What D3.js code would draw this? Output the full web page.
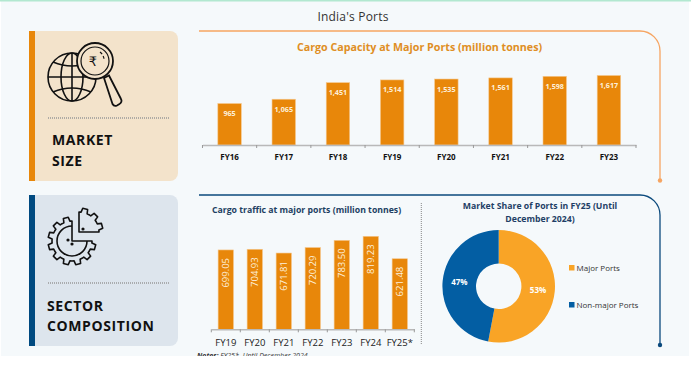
<!DOCTYPE html>
<html>
<head>
<meta charset="utf-8">
<script src="https://cdn.jsdelivr.net/npm/d3@7"></script>
<style>
  html, body { margin: 0; padding: 0; background: #fff; }
  svg { display: block; font-family: "Open Sans", sans-serif; }
</style>
</head>
<body>
<svg id="chart" width="691" height="367"></svg>
<script>
const capacityYears = ["FY16", "FY17", "FY18", "FY19", "FY20", "FY21", "FY22", "FY23"];
const capacityValues = [965, 1065, 1451, 1514, 1535, 1561, 1598, 1617];
const trafficYears = ["FY19", "FY20", "FY21", "FY22", "FY23", "FY24", "FY25*"];
const trafficValues = [699.05, 704.93, 671.81, 720.29, 783.5, 819.23, 621.48];
const shareLabels = ["Major Ports", "Non-major Ports"];
const shareValues = [53, 47];

const orange = "#e8870a";
const navy = "#004a80";
const svg = d3.select("#chart");

// page background
svg.append("rect").attr("width", 688).attr("x", 1).attr("height", 356).attr("fill", "#f5f9fb");
svg.append("rect").attr("width", 691).attr("height", 1.5).attr("fill", "#b2e8d0");

svg.append("text").attr("x", 353).attr("y", 21).attr("text-anchor", "middle")
  .attr("font-size", 12).attr("letter-spacing", 0.2).attr("fill", "#333").text("India's Ports");

// left side cards
const card = (y, h, fill, bar) => {
  svg.append("path")
    .attr("d", `M29,${y}H170a8,8 0 0 1 8,8V${y + h - 8}a8,8 0 0 1 -8,8H29Z`)
    .attr("fill", fill);
  svg.append("rect").attr("x", 29).attr("y", y).attr("width", 6).attr("height", h).attr("fill", bar);
};
card(31, 150, "#f3e3cb", orange);
card(195, 151, "#dde5ed", navy);

const dots = (y) => svg.append("line").attr("x1", 48).attr("x2", 170).attr("y1", y).attr("y2", y)
  .attr("stroke", "#999").attr("stroke-width", 1.5).attr("stroke-dasharray", "1 1");
dots(118);
dots(283);

const cardLabel = (x, y, t) => svg.append("text").attr("x", x).attr("y", y)
  .attr("font-size", 14).attr("font-weight", 700).attr("letter-spacing", 0.6).attr("fill", "#111").text(t);
cardLabel(52, 145, "MARKET");
cardLabel(52, 166, "SIZE");
cardLabel(47, 311, "SECTOR");
cardLabel(47, 331, "COMPOSITION");

// globe and magnifier icon
const globe = svg.append("g").attr("fill", "none").attr("stroke", "#111").attr("stroke-width", 1.6);
globe.append("circle").attr("cx", 72).attr("cy", 77).attr("r", 24);
globe.append("ellipse").attr("cx", 72).attr("cy", 77).attr("rx", 11).attr("ry", 24);
globe.append("line").attr("x1", 72).attr("x2", 72).attr("y1", 53).attr("y2", 101);
globe.append("line").attr("x1", 48).attr("x2", 96).attr("y1", 77).attr("y2", 77);
globe.append("path").attr("d", "M53,62Q72,70 91,62M53,92Q72,84 91,92");
const lens = svg.append("g").attr("stroke", "#111").attr("stroke-width", 1.8);
lens.append("path").attr("d", "M104,78L109,75.5L121,99a3.5,3.5 0 0 1 -1.5,5L117,105.5a3.5,3.5 0 0 1 -4.5,-1.5Z")
  .attr("fill", "#f3e3cb");
lens.append("circle").attr("cx", 95).attr("cy", 61).attr("r", 18).attr("fill", "#f3e3cb");
lens.append("circle").attr("cx", 95).attr("cy", 61).attr("r", 14).attr("fill", "#f3e3cb").attr("stroke-width", 1.2);
lens.append("path").attr("d", "M100,52a10,10 0 0 1 4,7").attr("fill", "none").attr("stroke-width", 1.2).attr("stroke-dasharray", "3 2");
svg.append("text").attr("x", 93).attr("y", 66).attr("text-anchor", "middle").attr("font-family", "DejaVu Sans")
  .attr("font-size", 13).attr("fill", "#111").text("₹");

// gear icon, a 3/4 gear with the missing quarter moved up and right
const gearPath = (cx, cy, from, to) => {
  const r0 = 20, r1 = 24, teeth = 12, step = (2 * Math.PI) / teeth;
  const pts = [];
  for (let a = from; a < to - 0.001; a += step) {
    [[0, r0], [0.2, r0], [0.3, r1], [0.7, r1], [0.8, r0]].forEach(([f, r]) => {
      const t = a + f * step;
      pts.push([cx + r * Math.sin(t), cy - r * Math.cos(t)]);
    });
  }
  pts.push([cx + r0 * Math.sin(to), cy - r0 * Math.cos(to)]);
  return `M${cx},${cy}L` + pts.map((p) => p.join(",")).join("L") + "Z";
};
const gear = svg.append("g").attr("fill", "none").attr("stroke", "#111").attr("stroke-width", 1.6).attr("stroke-linejoin", "round");
gear.append("path").attr("d", gearPath(72, 241, Math.PI / 2, 2 * Math.PI));
gear.append("path").attr("d", gearPath(79, 232, 0, Math.PI / 2));
gear.append("path").attr("d", "M72,226a15,15 0 1 0 15,15");
gear.selectAll("circle").data([[68, 240], [72, 244], [83, 229]]).join("circle")
  .attr("cx", (d) => d[0]).attr("cy", (d) => d[1]).attr("r", 0.8).attr("fill", "#111");

// frames around the chart panels
const frame = (top, bottom, color) => {
  svg.append("path").attr("fill", "none").attr("stroke", color).attr("stroke-width", 1.3)
    .attr("d", `M199,${top}H640a20,20 0 0 1 20,20V${bottom}`);
  svg.append("circle").attr("cx", 660).attr("cy", bottom).attr("r", 2.2).attr("fill", color);
};
frame(31, 180.5, "#f6a562");
frame(195, 345, "#0b4a7d");

// cargo capacity bars
const capX = d3.scaleBand().domain(capacityYears).range([202.5, 636]).paddingInner(0.567).paddingOuter(0.283);
const capY = d3.scaleLinear().domain([0, 1617]).range([145, 75.5]);

svg.append("text").attr("x", 419.5).attr("y", 51).attr("text-anchor", "middle")
  .attr("font-size", 10.7).attr("font-weight", 700).attr("fill", "#df8e24")
  .text("Cargo Capacity at Major Ports (million tonnes)");

svg.append("g").selectAll("rect").data(capacityValues).join("rect")
  .attr("x", (d, i) => capX(capacityYears[i]))
  .attr("y", (d) => capY(d))
  .attr("width", capX.bandwidth())
  .attr("height", (d) => capY(0) - capY(d))
  .attr("fill", orange).attr("stroke", "#f5c88f").attr("stroke-width", 0.6);

svg.append("g").selectAll("text").data(capacityValues).join("text")
  .attr("x", (d, i) => capX(capacityYears[i]) + capX.bandwidth() / 2)
  .attr("y", (d) => capY(d) + 12.5)
  .attr("text-anchor", "middle").attr("font-size", 7.2).attr("font-weight", 700).attr("fill", "#fdf0dc")
  .text((d) => d3.format(",")(d));

const bandAxis = (x, y, fontSize, weight, dy, color) => {
  const g = svg.append("g").attr("transform", `translate(0,${y})`)
    .call(d3.axisBottom(x).tickSize(0).tickPadding(0));
  g.select(".domain").attr("stroke", "#b9b9b9").attr("stroke-width", 1.5);
  g.selectAll(".tick text").attr("dy", 0).attr("y", dy)
    .attr("font-family", '"Open Sans", sans-serif').attr("font-size", fontSize)
    .attr("font-weight", weight).attr("fill", color);
  // ticks sit on the band edges, not the band centres
  const edges = x.domain().map((d) => x(d) - (x.step() * x.paddingInner()) / 2).concat(x.range()[1]);
  g.selectAll(".edge").data(edges).join("line").attr("class", "edge")
    .attr("x1", (d) => d).attr("x2", (d) => d).attr("y1", 0).attr("y2", 3).attr("stroke", "#999");
};
bandAxis(capX, 145, 8, 700, 15, "#111");

// cargo traffic bars
const trafX = d3.scaleBand().domain(trafficYears).range([211.3, 414.3]).paddingInner(0.47).paddingOuter(0.235);
const trafY = d3.scaleLinear().domain([0, 819.23]).range([329.3, 236.3]);

svg.append("text").attr("x", 306.5).attr("y", 213).attr("text-anchor", "middle")
  .attr("font-size", 8.7).attr("font-weight", 700).attr("fill", "#1d3f62")
  .text("Cargo traffic at major ports (million tonnes)");

svg.append("g").selectAll("rect").data(trafficValues).join("rect")
  .attr("x", (d, i) => trafX(trafficYears[i]))
  .attr("y", (d) => trafY(d))
  .attr("width", trafX.bandwidth())
  .attr("height", (d) => trafY(0) - trafY(d))
  .attr("fill", orange).attr("stroke", "#f5c88f").attr("stroke-width", 0.6);

svg.append("g").selectAll("text").data(trafficValues).join("text")
  .attr("transform", (d, i) => `translate(${trafX(trafficYears[i]) + trafX.bandwidth() / 2 + 3.5},${trafY(d) + 8}) rotate(-90)`)
  .attr("text-anchor", "end").attr("font-size", 9.5).attr("fill", "#fdf0dc")
  .text((d) => d.toFixed(2));

bandAxis(trafX, 329.3, 9.5, 400, 16.5, "#222");

svg.append("line").attr("x1", 421.3).attr("x2", 421.3).attr("y1", 203).attr("y2", 345)
  .attr("stroke", "#888").attr("stroke-width", 1).attr("stroke-dasharray", "1 1");

// market share donut
const shareColors = d3.scaleOrdinal().domain(shareLabels).range(["#f9a426", "#035ea3"]);
const pie = d3.pie().sort(null);
const arc = d3.arc().innerRadius(22.7).outerRadius(56.3);
const donut = svg.append("g").attr("transform", "translate(498.7,286.3)");
const slices = pie(shareValues);

donut.selectAll("path").data(slices).join("path")
  .attr("d", arc)
  .attr("fill", (d, i) => shareColors(shareLabels[i]));
donut.selectAll("text").data(slices).join("text")
  .attr("transform", (d) => `translate(${arc.centroid(d)})`)
  .attr("text-anchor", "middle").attr("dy", "0.35em")
  .attr("font-size", 8).attr("font-weight", 700).attr("fill", "#fff")
  .text((d) => d.data + "%");

const donutTitle = svg.append("text").attr("text-anchor", "middle")
  .attr("font-size", 8.7).attr("font-weight", 700).attr("fill", "#1f3f66");
donutTitle.append("tspan").attr("x", 540).attr("y", 209).text("Market Share of Ports in FY25 (Until");
donutTitle.append("tspan").attr("x", 540).attr("y", 222).text("December 2024)");

const legend = svg.append("g").selectAll("g").data(shareLabels).join("g")
  .attr("transform", (d, i) => `translate(569,${265 + i * 37})`);
legend.append("rect").attr("width", 5.5).attr("height", 5.5)
  .attr("fill", (d) => shareColors(d));
legend.append("text").attr("x", 7.5).attr("y", 5.5).attr("font-size", 8).attr("fill", "#333").text((d) => d);

// footnote is cut off by the bottom of the slide image
svg.append("text").attr("x", 197).attr("y", 357.5).attr("font-size", 7).attr("font-style", "italic").attr("fill", "#333")
  .html('<tspan font-weight="700">Notes:</tspan> FY25*- Until December 2024');
svg.append("rect").attr("y", 356).attr("width", 691).attr("height", 11).attr("fill", "#fff");
</script>
</body>
</html>
